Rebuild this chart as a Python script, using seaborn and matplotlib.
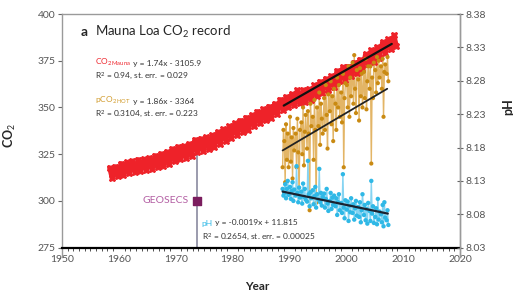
import numpy as np
import pandas as pd
import matplotlib
matplotlib.use("Agg")
import matplotlib.pyplot as plt
from matplotlib.ticker import MultipleLocator
import seaborn as sns

# Mauna Loa CO2: seasonal peak (May) and trough (Oct) per year
co2_years = list(range(1958, 2009))
co2_peak = [317.7, 318.3, 320.0, 320.6, 321.3, 322.1, 322.3, 322.9, 324.2, 325.2,
            326.3, 327.8, 328.9, 329.3, 330.4, 332.7, 333.3, 334.0, 335.1, 336.9,
            338.3, 339.9, 341.5, 343.0, 344.6, 345.9, 347.8, 349.1, 350.5, 352.0,
            354.2, 355.6, 357.1, 359.2, 359.3, 359.8, 361.8, 363.8, 365.4, 366.8,
            369.6, 371.5, 371.9, 374.0, 375.6, 378.4, 380.6, 382.2, 384.9, 386.4,
            388.5]
co2_trough = [312.4, 313.3, 313.7, 314.7, 315.6, 315.9, 316.5, 317.2, 318.3, 318.8,
              319.5, 321.2, 322.4, 323.0, 324.0, 326.4, 326.9, 327.8, 328.6, 330.6,
              332.2, 333.5, 335.5, 336.8, 338.1, 339.9, 341.6, 343.1, 344.3, 346.3,
              348.9, 350.2, 351.5, 352.4, 353.0, 354.1, 355.9, 357.9, 359.6, 360.8,
              364.2, 364.9, 366.7, 368.3, 370.5, 373.2, 374.1, 376.7, 379.4, 381.1,
              383.1]
peak_offset = 0.38
trough_offset = 0.80

# HOT station samples
hot_years = [1988.80, 1988.95,
             1989.10, 1989.25, 1989.40, 1989.55, 1989.70, 1989.85,
             1990.10, 1990.25, 1990.40, 1990.55, 1990.70, 1990.85,
             1991.10, 1991.25, 1991.40, 1991.55, 1991.70, 1991.85,
             1992.10, 1992.25, 1992.40, 1992.55, 1992.70, 1992.85,
             1993.10, 1993.25, 1993.40, 1993.55, 1993.70, 1993.85,
             1994.10, 1994.25, 1994.40, 1994.55, 1994.70, 1994.85,
             1995.10, 1995.25, 1995.40, 1995.55, 1995.70, 1995.85,
             1996.10, 1996.25, 1996.40, 1996.55, 1996.70, 1996.85,
             1997.10, 1997.25, 1997.40, 1997.55, 1997.70, 1997.85,
             1998.10, 1998.25, 1998.40, 1998.55, 1998.70, 1998.85,
             1999.10, 1999.25, 1999.40, 1999.55, 1999.70, 1999.85,
             2000.10, 2000.25, 2000.40, 2000.55, 2000.70, 2000.85,
             2001.10, 2001.25, 2001.40, 2001.55, 2001.70, 2001.85,
             2002.10, 2002.25, 2002.40, 2002.55, 2002.70, 2002.85,
             2003.10, 2003.25, 2003.40, 2003.55, 2003.70, 2003.85,
             2004.10, 2004.25, 2004.40, 2004.55, 2004.70, 2004.85,
             2005.10, 2005.25, 2005.40, 2005.55, 2005.70, 2005.85,
             2006.10, 2006.25, 2006.40, 2006.55, 2006.70, 2006.85,
             2007.10, 2007.25, 2007.40]
pco2_hot = [318, 338,
            332, 310, 341, 322, 336, 318,
            345, 321, 334, 312, 339, 327,
            336, 318, 344, 326, 303, 338,
            342, 325, 350, 319, 337, 346,
            328, 348, 336, 295, 352, 340,
            345, 322, 354, 338, 299, 350,
            340, 358, 330, 352, 344, 336,
            355, 338, 362, 346, 328, 357,
            348, 364, 341, 356, 332, 360,
            352, 338, 366, 350, 362, 345,
            358, 342, 368, 318, 355, 363,
            362, 350, 372, 345, 366, 356,
            374, 352, 378, 360, 347, 370,
            365, 343, 371, 356, 368, 350,
            369, 355, 376, 349, 364, 372,
            360, 372, 320, 366, 355, 374,
            370, 358, 377, 363, 375, 366,
            372, 360, 376, 345, 369, 373,
            368, 377, 364]
ph_hot = [8.118, 8.108,
          8.112, 8.125, 8.104, 8.118, 8.130, 8.109,
          8.121, 8.103, 8.115, 8.128, 8.100, 8.117,
          8.108, 8.152, 8.112, 8.098, 8.120, 8.105,
          8.114, 8.096, 8.126, 8.106, 8.118, 8.102,
          8.099, 8.160, 8.110, 8.092, 8.113, 8.104,
          8.116, 8.095, 8.107, 8.121, 8.090, 8.110,
          8.102, 8.148, 8.098, 8.112, 8.093, 8.106,
          8.111, 8.090, 8.103, 8.118, 8.096, 8.085,
          8.100, 8.112, 8.088, 8.105, 8.094, 8.108,
          8.092, 8.104, 8.079, 8.098, 8.110, 8.086,
          8.097, 8.082, 8.140, 8.090, 8.074, 8.101,
          8.087, 8.099, 8.070, 8.093, 8.083, 8.104,
          8.082, 8.095, 8.072, 8.089, 8.100, 8.078,
          8.091, 8.076, 8.098, 8.068, 8.086, 8.110,
          8.079, 8.094, 8.071, 8.088, 8.066, 8.097,
          8.085, 8.070, 8.130, 8.081, 8.092, 8.067,
          8.076, 8.089, 8.065, 8.103, 8.072, 8.084,
          8.080, 8.068, 8.094, 8.062, 8.098, 8.075,
          8.071, 8.086, 8.064]

# regression lines (end points)
co2_fit_years = [1989.0, 2008.0]
co2_fit = [351.0, 384.0]
pco2_fit_years = [1988.8, 2007.2]
pco2_fit = [327.0, 360.0]
ph_fit_years = [1988.8, 2007.3]
ph_fit = [8.114, 8.081]

geosecs_year = [1973.7]
geosecs_co2 = [300.0]

x_ticks = [1950, 1960, 1970, 1980, 1990, 2000, 2010, 2020]
co2_ticks = [275, 300, 325, 350, 375, 400]
ph_ticks = [8.03, 8.08, 8.13, 8.18, 8.23, 8.28, 8.33, 8.38]

RED = "#ee2229"
GOLD = "#c98a12"
GOLD_LINE = "#e3b566"
BLUE = "#2fb8e6"
BLUE_LINE = "#86d4f2"
PURPLE = "#7b1d5e"
TICK = "#555555"
SPINE = "#9a9a9a"
EQ = "#333333"

sns.set_style("white")
plt.rcParams["font.family"] = ["Lato", "DejaVu Sans"]
plt.rcParams["mathtext.fontset"] = "custom"
plt.rcParams["mathtext.rm"] = "Lato"
plt.rcParams["mathtext.it"] = "Lato:italic"
plt.rcParams["mathtext.bf"] = "Lato:bold"

# build long table for the Mauna Loa band
t = []
v = []
for yr, pk, tr in zip(co2_years, co2_peak, co2_trough):
    t += [yr + peak_offset, yr + trough_offset]
    v += [pk, tr]
mauna = pd.DataFrame({"year": t, "co2": v})
hot = pd.DataFrame({"year": hot_years, "pco2": pco2_hot, "ph": ph_hot})

fig = plt.figure(figsize=(5.13, 2.96), dpi=100)
ax = fig.add_axes([62 / 513, 1 - 257 / 296, 398 / 513, 243 / 296])
ylo, yhi = 270, 400
ax.set_xlim(1950, 2020)
ax.set_ylim(ylo, yhi)

# GEOSECS marker and guide line
ax.plot([geosecs_year[0], geosecs_year[0]], [275, 327], color="#8a8aa0", lw=1.2, zorder=1)
ax.scatter(geosecs_year, geosecs_co2, marker="s", s=26, color=PURPLE, zorder=4)
ax.text(geosecs_year[0] - 1.5, geosecs_co2[0], "GEOSECS", color="#b35ea3",
        fontsize=7.5, ha="right", va="center")

# Mauna Loa band
sns.lineplot(data=mauna, x="year", y="co2", ax=ax, color=RED, lw=3.5,
             marker="X", markersize=4.5, markeredgecolor=RED, zorder=3)

# pCO2 HOT
sns.lineplot(data=hot, x="year", y="pco2", ax=ax, color=GOLD_LINE, lw=1.0, zorder=2)
sns.scatterplot(data=hot, x="year", y="pco2", ax=ax, color=GOLD, s=9,
                edgecolor="none", zorder=3)

sns.lineplot(x=co2_fit_years, y=co2_fit, ax=ax, color="#111111", lw=1.6, zorder=5)
sns.lineplot(x=pco2_fit_years, y=pco2_fit, ax=ax, color="#222222", lw=1.3, zorder=5)

# pH on twin axis
ax2 = ax.twinx()
ph_scale = (8.38 - 8.03) / (400 - 275)
ax2.set_ylim(8.03 - (275 - ylo) * ph_scale, 8.38)
sns.lineplot(data=hot, x="year", y="ph", ax=ax2, color=BLUE_LINE, lw=1.0, zorder=2)
sns.scatterplot(data=hot, x="year", y="ph", ax=ax2, color=BLUE, s=10,
                edgecolor="none", zorder=3)
sns.lineplot(x=ph_fit_years, y=ph_fit, ax=ax2, color="#1a2230", lw=1.6, zorder=5)

# axes styling
ax.spines["bottom"].set_position(("data", 275))
ax.spines["bottom"].set_color("black")
ax.spines["bottom"].set_linewidth(1.6)
for s in ["left", "top", "right"]:
    ax.spines[s].set_color(SPINE)
    ax.spines[s].set_linewidth(1.0)
for s in ["left", "top", "bottom"]:
    ax2.spines[s].set_visible(False)
ax2.spines["right"].set_color(SPINE)
ax2.spines["right"].set_linewidth(1.0)

ax.set_xticks(x_ticks)
ax.xaxis.set_minor_locator(MultipleLocator(1))
ax.tick_params(axis="x", which="major", length=2.5, color="black", labelsize=7.5,
               labelcolor=TICK, pad=3)
ax.tick_params(axis="x", which="minor", bottom=True, length=2, width=0.6, color="#333333")
ax.set_yticks(co2_ticks)
ax.tick_params(axis="y", length=3, color="#666666", labelsize=7.5, labelcolor=TICK, pad=2)
ax2.set_yticks(ph_ticks)
ax2.set_yticklabels([f"{p:.2f}" for p in ph_ticks])
ax2.tick_params(axis="y", direction="inout", length=4, color="#666666", labelsize=7.5,
                labelcolor=TICK, pad=2)

ax.set_xlabel("Year", fontsize=8.5, weight="bold")
ax.set_ylabel("CO$_2$", fontsize=9, weight="bold")
ax2.set_ylabel("pH", fontsize=9, weight="bold")
ax.xaxis.set_label_coords(0.49, -0.1)
ax.yaxis.set_label_coords(-0.11, 0.5)
ax2.yaxis.set_label_coords(1.105, 0.62)

# annotations
ax.text(1953.2, 390.4, "a", fontsize=10, weight="bold", va="center")
ax.text(1955.8, 390.4, "Mauna Loa CO$_2$ record", fontsize=9.5, va="center")


def equation(x, y, label, color, rest):
    lab = ax.text(x, y, label, color=color, fontsize=6, va="baseline")
    ax.annotate(" " + rest, xy=(1, 0.1), xycoords=lab, color=EQ, fontsize=6,
                va="bottom", ha="left")


equation(1955.8, 372.8, r"CO$_{2\,\mathrm{Mauna}}$", RED, "y = 1.74x - 3105.9")
ax.text(1955.8, 366.8, "R$^2$ = 0.94, st. err. = 0.029", color=EQ, fontsize=6, va="center")
equation(1955.8, 352.5, r"pCO$_{2\,\mathrm{HOT}}$", "#d19a2a", "y = 1.86x - 3364")
ax.text(1955.8, 346.5, "R$^2$ = 0.3104, st. err. = 0.223", color=EQ, fontsize=6, va="center")
equation(1974.6, 286.8, "pH", BLUE, "y = -0.0019x + 11.815")
ax.text(1974.6, 280.7, "R$^2$ = 0.2654, st. err. = 0.00025", color=EQ, fontsize=6, va="center")

fig.savefig("out.png", dpi=100)
